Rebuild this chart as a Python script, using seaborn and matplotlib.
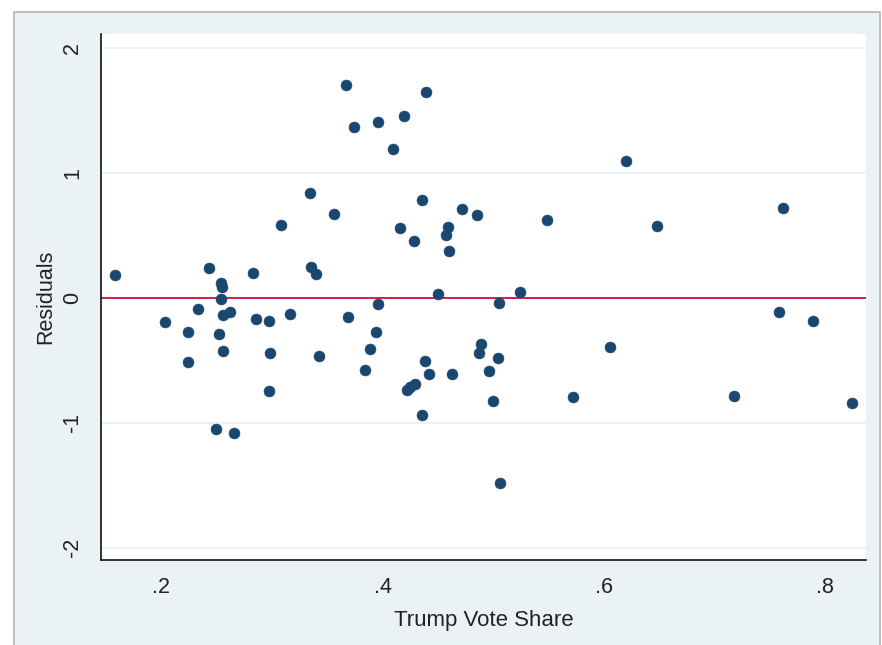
import matplotlib
matplotlib.use("Agg")
import matplotlib.pyplot as plt
import seaborn as sns
import pandas as pd
from matplotlib.patches import Rectangle

# Valores (participacion de Trump vs residuos)
trump_share = [
    0.158, 0.367, 0.374, 0.396, 0.409, 0.419, 0.439, 0.334, 0.356, 0.308,
    0.243, 0.283, 0.335, 0.340, 0.254, 0.255, 0.254, 0.416, 0.436, 0.428,
    0.472, 0.485, 0.459, 0.457, 0.460, 0.549, 0.450, 0.505, 0.524, 0.203,
    0.224, 0.233, 0.224, 0.256, 0.262, 0.252, 0.256, 0.249, 0.266, 0.286,
    0.297, 0.298, 0.297, 0.316, 0.343, 0.369, 0.396, 0.394, 0.389, 0.384,
    0.438, 0.442, 0.422, 0.425, 0.429, 0.436, 0.463, 0.489, 0.487, 0.504,
    0.496, 0.500, 0.506, 0.620, 0.648, 0.762, 0.758, 0.789, 0.606, 0.572,
    0.718, 0.824,
]
residuos = [
    0.184, 1.707, 1.368, 1.411, 1.192, 1.459, 1.651, 0.839, 0.673, 0.588,
    0.238, 0.203, 0.246, 0.192, 0.118, 0.086, -0.006, 0.564, 0.786, 0.457,
    0.711, 0.665, 0.572, 0.505, 0.379, 0.625, 0.032, -0.038, 0.046, -0.190,
    -0.275, -0.091, -0.511, -0.136, -0.115, -0.289, -0.422, -1.048, -1.080, -0.168,
    -0.182, -0.443, -0.745, -0.131, -0.465, -0.150, -0.048, -0.275, -0.411, -0.577,
    -0.505, -0.612, -0.737, -0.713, -0.690, -0.938, -0.612, -0.371, -0.443, -0.483,
    -0.585, -0.826, -1.485, 1.101, 0.575, 0.724, -0.110, -0.182, -0.396, -0.796,
    -0.786, -0.844,
]

x_ticks = [0.2, 0.4, 0.6, 0.8]
x_tick_labels = [".2", ".4", ".6", ".8"]
y_ticks = [-2, -1, 0, 1, 2]
y_tick_labels = ["-2", "-1", "0", "1", "2"]

fondo = "#EAF2F3"
azul = "#1A476F"

df = pd.DataFrame({"share": trump_share, "resid": residuos})

sns.set_style("white")
plt.rcParams["font.family"] = ["Liberation Sans", "DejaVu Sans"]

fig = plt.figure(figsize=(8.82, 6.45), dpi=100)
fig.patch.set_facecolor("white")
marco = Rectangle((14 / 882, -0.01), (880 - 14) / 882, (645 - 12) / 645 + 0.01,
                  transform=fig.transFigure, facecolor=fondo,
                  edgecolor="#B4B4B4", linewidth=1.2, zorder=-10)
fig.add_artist(marco)

ax = fig.add_axes([101 / 882, (645 - 560) / 645, (866 - 101) / 882, (560 - 34) / 645])
ax.set_zorder(1)
ax.set_facecolor("white")

for y in y_ticks:
    ax.axhline(y, color=fondo, linewidth=1.5, zorder=0)

sns.scatterplot(data=df, x="share", y="resid", ax=ax, s=62, color=azul,
                edgecolor=azul, linewidth=0.4, zorder=3)
ax.axhline(0, color="#D0103A", linewidth=1.3, zorder=2)

ax.set_xlim(0.1455, 0.837)
ax.set_ylim(-2.10, 2.116)
ax.set_xticks(x_ticks)
ax.set_xticklabels(x_tick_labels)
ax.set_yticks(y_ticks)
ax.set_yticklabels(y_tick_labels, rotation=90, va="center")

ax.tick_params(axis="both", direction="out", length=6, width=1.2, color="#333333",
               labelsize=15.5, labelcolor="#222222")
ax.tick_params(axis="x", pad=6)
ax.tick_params(axis="y", pad=7)

for lado in ["top", "right"]:
    ax.spines[lado].set_visible(False)
for lado in ["left", "bottom"]:
    ax.spines[lado].set_color("#111111")
    ax.spines[lado].set_linewidth(1.2)

ax.set_xlabel("Trump Vote Share", fontsize=16, color="#222222", labelpad=9)
ax.set_ylabel("Residuals", fontsize=15.5, color="#222222", labelpad=4)

fig.savefig("out.png", dpi=100, facecolor=fig.get_facecolor())
